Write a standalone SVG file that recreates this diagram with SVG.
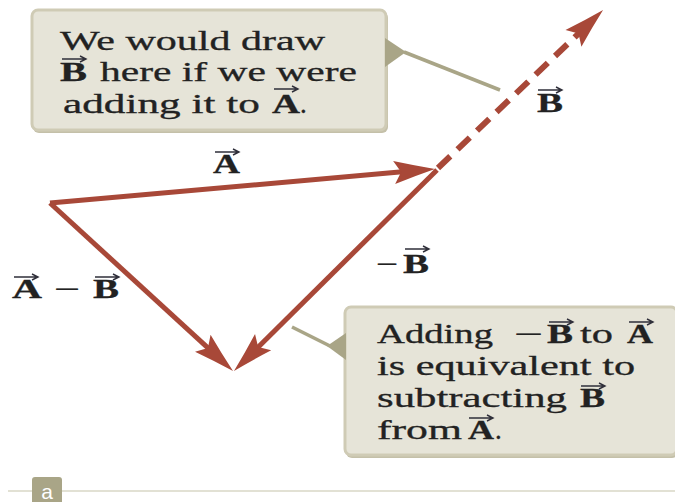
<svg xmlns="http://www.w3.org/2000/svg" width="675" height="502" viewBox="0 0 675 502">
<style>
.box{fill:#e6e4d8;stroke:#cfcbb5;stroke-width:3}
.shadow{fill:#c4c0a9}
.ptr{fill:#a9a587}
.ptrline{stroke:#a9a587;stroke-width:3.5;fill:none}
.t{font-family:"Liberation Serif","Times New Roman",serif;font-size:27px;fill:#222;stroke:#222;stroke-width:0.3}
.b{font-weight:bold}
.vec{stroke:#a84838;stroke-width:5;fill:none;marker-end:url(#head)}
.dash{stroke-width:6;stroke-dasharray:17 10}
.ov{stroke:#2f2f3a;stroke-width:1.4;fill:none}
</style>
<defs>
<marker id="head" markerUnits="userSpaceOnUse" viewBox="-14 -14 48 28" refX="0" refY="0" markerWidth="48" markerHeight="28" orient="auto">
<path d="M30,0 Q10,-5 -11,-11.5 L-4,0 L-11,11.5 Q10,5 30,0 Z" fill="#a84838"/>
</marker>
<g id="ovarrow"><path d="M0,0 H24 M18,-3 L24,0 L18,3"/></g>
</defs>

<line x1="8" y1="491" x2="675" y2="491" stroke="#d9d7c6" stroke-width="1.5"/>

<g id="box-top">
<rect class="shadow" x="33" y="12" width="355" height="121" rx="6"/>
<rect class="box" x="32" y="10" width="354" height="120" rx="6"/>
<path class="ptr" d="M385,38 L406,52 L385,67 Z"/>
<line class="ptrline" x1="404" y1="52" x2="500" y2="90"/>
<text class="t" x="60" y="50" textLength="265" lengthAdjust="spacingAndGlyphs">We would draw</text>
<text class="t b" x="60" y="81" textLength="27" lengthAdjust="spacingAndGlyphs">B</text>
<text class="t" x="100" y="81" textLength="257" lengthAdjust="spacingAndGlyphs">here if we were</text>
<text class="t" x="63" y="113" textLength="197" lengthAdjust="spacingAndGlyphs">adding it to</text>
<text class="t b" x="272" y="113" textLength="28" lengthAdjust="spacingAndGlyphs">A</text>
<text class="t" x="300" y="113">.</text>
<use href="#ovarrow" class="ov" x="62" y="59"/>
<use href="#ovarrow" class="ov" x="274" y="89"/>
</g>

<g id="box-bottom">
<rect class="shadow" x="346" y="309" width="332" height="149" rx="6"/>
<rect class="box" x="345" y="307" width="332" height="148" rx="6"/>
<path class="ptr" d="M346,333 L327,346 L346,360 Z"/>
<line class="ptrline" x1="292" y1="327" x2="330" y2="346"/>
<text class="t" x="377" y="343" textLength="116" lengthAdjust="spacingAndGlyphs">Adding</text>
<text class="t" x="514" y="343" textLength="29" lengthAdjust="spacingAndGlyphs">−</text>
<text class="t b" x="547" y="343" textLength="26" lengthAdjust="spacingAndGlyphs">B</text>
<text class="t" x="580" y="343" textLength="33" lengthAdjust="spacingAndGlyphs">to</text>
<text class="t b" x="627" y="343" textLength="26" lengthAdjust="spacingAndGlyphs">A</text>
<text class="t" x="377" y="375" textLength="258" lengthAdjust="spacingAndGlyphs">is equivalent to</text>
<text class="t" x="377" y="407" textLength="190" lengthAdjust="spacingAndGlyphs">subtracting</text>
<text class="t b" x="580" y="407" textLength="25" lengthAdjust="spacingAndGlyphs">B</text>
<text class="t" x="377" y="439" textLength="85" lengthAdjust="spacingAndGlyphs">from</text>
<text class="t b" x="468" y="439" textLength="26" lengthAdjust="spacingAndGlyphs">A</text>
<text class="t" x="495" y="439">.</text>
<use href="#ovarrow" class="ov" x="549" y="322"/>
<use href="#ovarrow" class="ov" x="629" y="322"/>
<use href="#ovarrow" class="ov" x="581" y="386"/>
<use href="#ovarrow" class="ov" x="469" y="418"/>
</g>

<g id="connectors">
<line class="vec" x1="50" y1="203" x2="405.1" y2="171.6"/>
<line class="vec" x1="50" y1="203" x2="210.9" y2="350.7"/>
<line class="vec" x1="437" y1="170" x2="255.3" y2="349.9"/>
<line class="vec dash" x1="438" y1="168" x2="581.4" y2="30.8"/>
</g>

<g id="label-A">
<text class="t b" x="213" y="173" textLength="27" lengthAdjust="spacingAndGlyphs">A</text>
<use href="#ovarrow" class="ov" x="215" y="152"/>
</g>
<g id="label-negB">
<text class="t" x="376" y="273" textLength="22" lengthAdjust="spacingAndGlyphs">−</text>
<text class="t b" x="403" y="273" textLength="26" lengthAdjust="spacingAndGlyphs">B</text>
<use href="#ovarrow" class="ov" x="405" y="249"/>
</g>
<g id="label-AminusB">
<text class="t b" x="12" y="298" textLength="30" lengthAdjust="spacingAndGlyphs">A</text>
<text class="t" x="54" y="298" textLength="26" lengthAdjust="spacingAndGlyphs">−</text>
<text class="t b" x="93" y="298" textLength="26" lengthAdjust="spacingAndGlyphs">B</text>
<use href="#ovarrow" class="ov" x="14" y="277"/>
<use href="#ovarrow" class="ov" x="95" y="277"/>
</g>
<g id="label-B">
<text class="t b" x="537" y="112" textLength="26" lengthAdjust="spacingAndGlyphs">B</text>
<use href="#ovarrow" class="ov" x="538" y="90"/>
</g>

<g id="panel-label">
<rect x="32" y="477" width="30" height="30" rx="3" fill="#a9a587"/>
<text x="47" y="499" text-anchor="middle" font-family="Liberation Sans, Arial, sans-serif" font-size="21" fill="#ffffff">a</text>
</g>
</svg>
